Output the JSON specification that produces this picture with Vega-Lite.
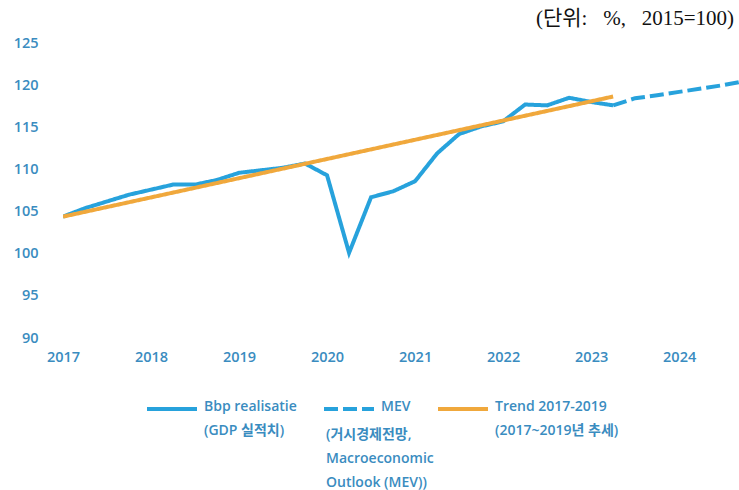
{
  "$schema": "https://vega.github.io/schema/vega-lite/v6.json",
  "autosize": "none",
  "width": 676,
  "height": 295,
  "padding": {"left": 63, "top": 43, "right": 0, "bottom": 152},
  "background": "white",
  "config": {"view": {"stroke": null}},
  "title": {
    "text": "(단위:\u00a0\u00a0\u00a0%,\u00a0\u00a0\u00a02015=100)",
    "anchor": "end",
    "orient": "top",
    "offset": 6,
    "dx": -5,
    "font": "Liberation Serif, Noto Sans CJK KR",
    "fontSize": 21,
    "fontWeight": "normal",
    "color": "#111111"
  },
  "data": {
    "values": [
      {"series": "Bbp", "t": 2017.0, "value": 104.4},
      {"series": "Bbp", "t": 2017.25, "value": 105.4},
      {"series": "Bbp", "t": 2017.5, "value": 106.2},
      {"series": "Bbp", "t": 2017.75, "value": 107.0},
      {"series": "Bbp", "t": 2018.0, "value": 107.6},
      {"series": "Bbp", "t": 2018.25, "value": 108.2},
      {"series": "Bbp", "t": 2018.5, "value": 108.2},
      {"series": "Bbp", "t": 2018.75, "value": 108.75},
      {"series": "Bbp", "t": 2019.0, "value": 109.6},
      {"series": "Bbp", "t": 2019.25, "value": 109.9},
      {"series": "Bbp", "t": 2019.5, "value": 110.2},
      {"series": "Bbp", "t": 2019.75, "value": 110.7},
      {"series": "Bbp", "t": 2020.0, "value": 109.3},
      {"series": "Bbp", "t": 2020.25, "value": 100.1},
      {"series": "Bbp", "t": 2020.5, "value": 106.7},
      {"series": "Bbp", "t": 2020.75, "value": 107.4},
      {"series": "Bbp", "t": 2021.0, "value": 108.6},
      {"series": "Bbp", "t": 2021.25, "value": 111.9},
      {"series": "Bbp", "t": 2021.5, "value": 114.2},
      {"series": "Bbp", "t": 2021.75, "value": 115.1},
      {"series": "Bbp", "t": 2022.0, "value": 115.7},
      {"series": "Bbp", "t": 2022.25, "value": 117.7},
      {"series": "Bbp", "t": 2022.5, "value": 117.6},
      {"series": "Bbp", "t": 2022.75, "value": 118.5},
      {"series": "Bbp", "t": 2023.0, "value": 118.0},
      {"series": "Bbp", "t": 2023.25, "value": 117.6},
      {"series": "MEV", "t": 2023.25, "value": 117.6},
      {"series": "MEV", "t": 2023.5, "value": 118.45},
      {"series": "MEV", "t": 2023.75, "value": 118.8},
      {"series": "MEV", "t": 2024.0, "value": 119.2},
      {"series": "MEV", "t": 2024.25, "value": 119.6},
      {"series": "MEV", "t": 2024.5, "value": 120.0},
      {"series": "MEV", "t": 2024.75, "value": 120.5},
      {"series": "Trend", "t": 2017.0, "value": 104.4},
      {"series": "Trend", "t": 2023.25, "value": 118.65}
    ]
  },
  "mark": {"type": "line", "strokeWidth": 4, "clip": true, "strokeCap": "butt"},
  "encoding": {
    "x": {
      "field": "t",
      "type": "quantitative",
      "scale": {"domain": [2017, 2024.68], "nice": false, "zero": false},
      "axis": {
        "values": [2017, 2018, 2019, 2020, 2021, 2022, 2023, 2024],
        "format": "d",
        "title": null,
        "grid": false,
        "domain": false,
        "ticks": false,
        "labelPadding": 12,
        "labelFont": "Open Sans",
        "labelFontSize": 14.5,
        "labelFontWeight": 600,
        "labelColor": "#3a8cc0",
        "labelFlush": false
      }
    },
    "y": {
      "field": "value",
      "type": "quantitative",
      "scale": {"domain": [90, 125], "nice": false, "zero": false},
      "axis": {
        "values": [90, 95, 100, 105, 110, 115, 120, 125],
        "title": null,
        "grid": false,
        "domain": false,
        "ticks": false,
        "labelPadding": 25,
        "labelFont": "Open Sans",
        "labelFontSize": 14.5,
        "labelFontWeight": 600,
        "labelColor": "#3a8cc0"
      }
    },
    "color": {
      "field": "series",
      "type": "nominal",
      "scale": {"domain": ["Bbp", "MEV", "Trend"], "range": ["#27a2dc", "#27a2dc", "#f0a83c"]},
      "legend": {
        "title": null,
        "orient": "none",
        "direction": "horizontal",
        "legendX": 82,
        "legendY": 357,
        "symbolType": "stroke",
        "symbolSize": 2500,
        "symbolStrokeWidth": 4,
        "labelOffset": 5,
        "columnPadding": 19,
        "labelFont": "Open Sans, Noto Sans CJK KR",
        "labelFontSize": 14,
        "labelFontWeight": 600,
        "labelColor": "#3a8cc0",
        "labelLimit": 300,
        "encode": {
          "labels": {"update": {"lineHeight": {"value": 24}, "baseline": {"value": "top"}, "y": {"value": 0}}},
          "symbols": {"update": {"y": {"value": 9}}}
        },
        "labelExpr": "datum.value == 'Bbp' ? ['Bbp realisatie', '(GDP 실적치)'] : datum.value == 'MEV' ? ['MEV\u00a0\u00a0', ' '] : ['Trend 2017-2019', '(2017~2019년 추세)']"
      }
    },
    "strokeDash": {
      "field": "series",
      "type": "nominal",
      "scale": {"domain": ["Bbp", "MEV", "Trend"], "range": [[1, 0], [14, 5], [1, 0]]},
      "legend": null
    },
    "opacity": {
      "datum": "note",
      "type": "nominal",
      "scale": {"range": [1]},
      "legend": {
        "title": null,
        "orient": "none",
        "legendX": 249,
        "legendY": 385,
        "symbolSize": 0,
        "symbolOpacity": 0,
        "symbolStrokeWidth": 0,
        "labelOffset": 0,
        "labelFont": "Open Sans, Noto Sans CJK KR",
        "labelFontSize": 14,
        "labelFontWeight": 600,
        "labelColor": "#3a8cc0",
        "labelLimit": 300,
        "encode": {
          "labels": {"update": {"lineHeight": {"value": 24}, "baseline": {"value": "top"}, "y": {"value": 0}}}
        },
        "labelExpr": "['(거시경제전망,', 'Macroeconomic', 'Outlook (MEV))']"
      }
    }
  }
}
